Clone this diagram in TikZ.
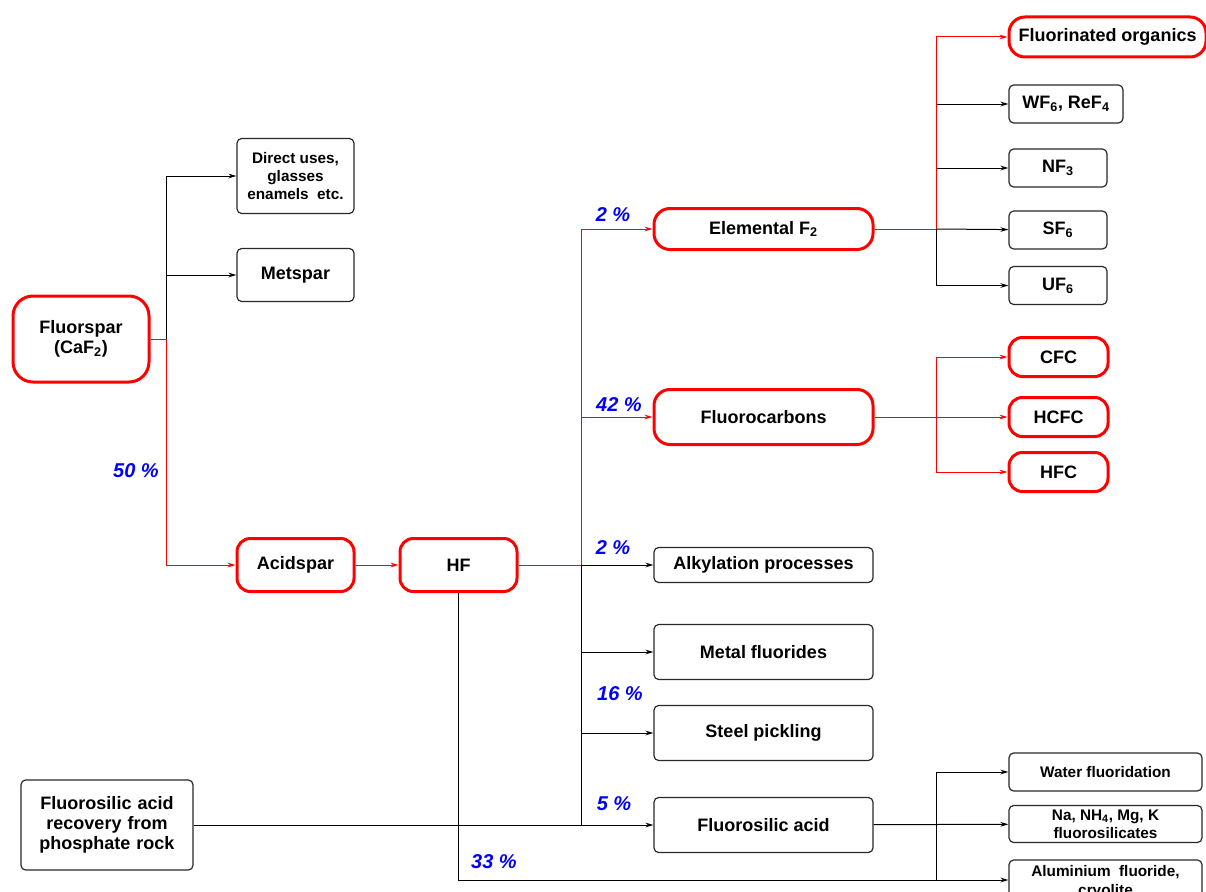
\documentclass[tikz,border=0pt]{standalone}
\usepackage{fontspec}
\setmainfont{Liberation Sans}
\usetikzlibrary{arrows.meta}

\definecolor{flRed}{RGB}{255,0,0}
\definecolor{flBlue}{RGB}{0,0,255}
\definecolor{flGray}{RGB}{40,40,40}

\tikzset{every picture/.style={line width=0.75pt}}
\tikzset{
  redbox/.style={draw=flRed, line width=2.25pt, rounded corners=10pt, fill=white, align=center, inner sep=0pt,
    font=\bfseries\fontsize{13.5}{15}\selectfont},
  blkbox/.style={draw=flGray, line width=0.9pt, rounded corners=3.5pt, fill=white, align=center, inner sep=0pt,
    font=\bfseries\fontsize{13.5}{15}\selectfont},
  smalltxt/.style={font=\bfseries\fontsize{11.5}{13.8}\selectfont},
  pct/.style={text=flBlue, font=\bfseries\itshape\fontsize{15}{17}\selectfont},
  arr/.style={-{Stealth[length=6pt,width=3.5pt]}},
  redln/.style={draw=flRed},
}

\begin{document}
\begin{tikzpicture}[x=0.75pt,y=0.75pt,yscale=-1,xscale=1]
	\useasboundingbox (0,0) rectangle (1206,892);

	%Shape: Rounded Rect
	\node[redbox, rounded corners=15pt, minimum width=102pt, minimum height=64.5pt] (fluorspar) at (81,339) {Fluorspar\\(CaF\textsubscript{2})};
	\node[blkbox, smalltxt, minimum width=87.75pt, minimum height=56.25pt] (direct) at (295.5,176) {Direct uses,\\glasses\\enamels\ \ etc.};
	\node[blkbox, minimum width=87.75pt, minimum height=39.75pt] (metspar) at (295.5,275) {Metspar};
	\node[redbox, minimum width=87.75pt, minimum height=39.75pt] (acidspar) at (295.5,565) {Acidspar};
	\node[redbox, minimum width=87.75pt, minimum height=39.75pt] (hf) at (458.5,565) {HF};
	\node[blkbox, minimum width=129pt, minimum height=67.5pt, text width=125pt] (recovery) at (107,825) {Fluorosilic acid\\recovery from\\phosphate rock};

	%Shape: Rounded Rect
	\node[redbox, rounded corners=12pt, minimum width=164.25pt, minimum height=30.75pt] (elemental) at (763.5,229) {Elemental F\textsubscript{2}};
	\node[redbox, rounded corners=12pt, minimum width=164.25pt, minimum height=41.25pt] (fluorocarbons) at (763.5,417) {Fluorocarbons};
	\node[blkbox, minimum width=164.25pt, minimum height=26.25pt] (alkylation) at (763.5,565) {Alkylation processes};
	\node[blkbox, minimum width=164.25pt, minimum height=41.25pt] (metalfl) at (763.5,652) {Metal fluorides};
	\node[blkbox, minimum width=164.25pt, minimum height=41.25pt] (steel) at (763.5,733) {Steel pickling};
	\node[blkbox, minimum width=164.25pt, minimum height=41.25pt] (fsacid) at (763.5,825) {Fluorosilic acid};

	%Shape: Rounded Rect
	\node[redbox, rounded corners=12pt, minimum width=147.75pt, minimum height=30pt] (organics) at (1107.5,37) {Fluorinated organics};
	\node[blkbox, minimum width=85.5pt, minimum height=28.5pt] (wf) at (1066,104) {WF\textsubscript{6}, ReF\textsubscript{4}};
	\node[blkbox, minimum width=73.5pt, minimum height=28.5pt] (nf) at (1058,168) {NF\textsubscript{3}};
	\node[blkbox, minimum width=73.5pt, minimum height=28.5pt] (sf) at (1058,230) {SF\textsubscript{6}};
	\node[blkbox, minimum width=73.5pt, minimum height=28.5pt] (uf) at (1058,285.5) {UF\textsubscript{6}};
	\node[redbox, minimum width=74.25pt, minimum height=29.25pt] (cfc) at (1058.5,357) {CFC};
	\node[redbox, minimum width=74.25pt, minimum height=29.25pt] (hcfc) at (1058.5,417) {HCFC};
	\node[redbox, minimum width=74.25pt, minimum height=29.25pt] (hfc) at (1058.5,472) {HFC};
	\node[blkbox, smalltxt, minimum width=144.75pt, minimum height=28.5pt] (water) at (1105.5,772) {Water fluoridation};
	\node[blkbox, smalltxt, minimum width=144.75pt, minimum height=27.75pt] (nasil) at (1105.5,824) {Na, NH\textsubscript{4}, Mg, K\\fluorosilicates};
	\node[blkbox, smalltxt, minimum width=144.75pt, minimum height=33pt] (alfl) at (1105.5,882) {Aluminium\ \ fluoride,\\cryolite};

	%Junction points
	\coordinate (j1) at (166,339);
	\coordinate (j2) at (581,565);
	\coordinate (j3) at (936,229);
	\coordinate (j4) at (936,417);
	\coordinate (j5) at (936,880);

	%Straight Lines
	\draw [arr] (j1) |- (direct);
	\draw [arr] (j1) |- (metspar);
	\draw [redln] (fluorspar) -- (j1);
	\draw [redln, arr] (j1) |- (acidspar);
	\draw [redln, arr] (acidspar) -- (hf);
	%Straight Lines
	\draw [arr] (j2) -- (alkylation);
	\draw [arr] (j2) |- (metalfl);
	\draw [arr] (j2) |- (steel);
	\draw [arr] (recovery) -- (fsacid);
	\draw (j2) -- (j2 |- fsacid);
	\draw [redln] (hf) -- (j2);
	\draw [redln, arr] (j2) |- (elemental);
	\draw [redln, arr] (j2) |- (fluorocarbons);
	%Straight Lines
	\draw [arr] (hf) |- (j5) -- (j5 -| alfl.west);
	\draw [arr] (fsacid) -- (nasil);
	\draw [arr] (j5) |- (water);
	%Straight Lines
	\draw [arr] (j3) |- (wf);
	\draw [arr] (j3) |- (nf);
	\draw [arr] (j3) |- (uf);
	\draw [arr] (j3) -- (sf);
	\draw [redln] (elemental) -- (j3);
	\draw [redln, arr] (j3) |- (organics);
	%Straight Lines
	\draw [redln, arr] (fluorocarbons) -- (hcfc);
	\draw [redln, arr] (j4) |- (cfc);
	\draw [redln, arr] (j4) |- (hfc);

	% Text Node
	\node[pct] (p50) at (136,471) {50 \%};
	\node[pct] (p2a) at (613,215) {2 \%};
	\node[pct] (p42) at (619,405) {42 \%};
	\node[pct] (p2b) at (613,548) {2 \%};
	\node[pct] (p16) at (620,694) {16 \%};
	\node[pct] (p5) at (614,804) {5 \%};
	\node[pct] (p33) at (494,862) {33 \%};

\end{tikzpicture}
\end{document}
